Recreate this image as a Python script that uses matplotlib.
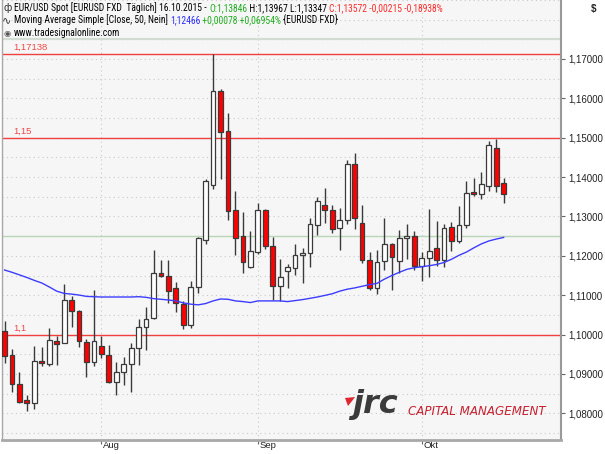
import numpy as np
import pandas as pd
import matplotlib
matplotlib.use("Agg")
import matplotlib.pyplot as plt
from matplotlib.patches import Polygon
from matplotlib import font_manager
import matplotlib.transforms as mtransforms

# ---------------- data ----------------
dates = pd.bdate_range("2015-07-15", "2015-10-16")

opens = [1.10085, 1.09473, 1.08746, 1.08332, 1.08249, 1.09341, 1.09258, 1.09846, 1.09796, 1.10879,
         1.10590, 1.09821, 1.09308, 1.09722, 1.09490, 1.08803, 1.09052, 1.09242, 1.09655, 1.10193,
         1.10416, 1.11574, 1.11500, 1.11185, 1.10788, 1.10251, 1.11210, 1.12410, 1.13807, 1.16189,
         1.15172, 1.13154, 1.12492, 1.11723, 1.12095, 1.13154, 1.12261, 1.11227, 1.11624, 1.11698,
         1.12013, 1.12070, 1.12782, 1.13295, 1.13171, 1.12699, 1.12922, 1.14345, 1.12840, 1.11888,
         1.11185, 1.11872, 1.12302, 1.11864, 1.12443, 1.12492, 1.11748, 1.11946, 1.12203, 1.11888,
         1.12732, 1.12368, 1.12774, 1.13609, 1.13568, 1.13774, 1.14742, 1.13846]
highs = [1.10342, 1.09631, 1.09052, 1.08456, 1.09697, 1.09672, 1.10176, 1.09961, 1.11293, 1.10979,
         1.10623, 1.09879, 1.11144, 1.09961, 1.09738, 1.09300, 1.09432, 1.09796, 1.10400, 1.10689,
         1.12137, 1.11889, 1.11889, 1.11326, 1.10855, 1.11351, 1.12467, 1.13956, 1.17138, 1.16231,
         1.15635, 1.13650, 1.13113, 1.12633, 1.13336, 1.13195, 1.12467, 1.11913, 1.11781, 1.12302,
         1.12195, 1.12964, 1.13485, 1.13733, 1.13295, 1.13212, 1.14428, 1.14618, 1.13295, 1.12095,
         1.12137, 1.12964, 1.12327, 1.12658, 1.12815, 1.12633, 1.12095, 1.13187, 1.12897, 1.12798,
         1.12856, 1.13270, 1.13890, 1.13973, 1.14138, 1.14907, 1.14965, 1.13967]
lows = [1.09283, 1.08539, 1.08274, 1.08067, 1.08109, 1.09200, 1.09200, 1.09225, 1.09779, 1.10193,
        1.09672, 1.08911, 1.09200, 1.09407, 1.08770, 1.08473, 1.08721, 1.08539, 1.09225, 1.09597,
        1.10391, 1.11475, 1.10813, 1.10582, 1.10152, 1.10176, 1.11061, 1.12302, 1.13708, 1.13956,
        1.12922, 1.12013, 1.11558, 1.11682, 1.12054, 1.12178, 1.10871, 1.10855, 1.11185, 1.11516,
        1.11310, 1.11707, 1.12525, 1.12840, 1.12575, 1.12137, 1.12798, 1.12691, 1.11806, 1.11144,
        1.11037, 1.11640, 1.11144, 1.11558, 1.11930, 1.11640, 1.11351, 1.11475, 1.11748, 1.11707,
        1.12112, 1.12319, 1.12716, 1.13526, 1.13435, 1.13650, 1.13625, 1.13347]
closes = [1.09465, 1.08746, 1.08291, 1.08249, 1.09341, 1.09283, 1.09862, 1.09755, 1.10879, 1.10590,
          1.09846, 1.09300, 1.09846, 1.09506, 1.08787, 1.09052, 1.09242, 1.09655, 1.10193, 1.10400,
          1.11574, 1.11492, 1.11103, 1.10797, 1.10251, 1.11210, 1.12443, 1.13890, 1.16189, 1.15156,
          1.13129, 1.12451, 1.11847, 1.12120, 1.13171, 1.12261, 1.11227, 1.11475, 1.11707, 1.12029,
          1.12079, 1.12798, 1.13402, 1.13171, 1.12674, 1.12922, 1.14345, 1.12964, 1.11888, 1.11185,
          1.11847, 1.12302, 1.11971, 1.12451, 1.12492, 1.11748, 1.11946, 1.12112, 1.11888, 1.12716,
          1.12368, 1.12774, 1.13601, 1.13568, 1.13816, 1.14825, 1.13774, 1.13572]
ma50 = [1.11640, 1.11582, 1.11516, 1.11450, 1.11376, 1.11310, 1.11210, 1.11103, 1.11045, 1.11028,
        1.11004, 1.10970, 1.10962, 1.10954, 1.10954, 1.10954, 1.10954, 1.10954, 1.10962, 1.10946,
        1.10913, 1.10896, 1.10879, 1.10855, 1.10805, 1.10772, 1.10755, 1.10788, 1.10855, 1.10904,
        1.10896, 1.10855, 1.10838, 1.10813, 1.10855, 1.10855, 1.10855, 1.10855, 1.10838, 1.10863,
        1.10888, 1.10921, 1.10954, 1.10995, 1.11037, 1.11103, 1.11152, 1.11185, 1.11227, 1.11268,
        1.11301, 1.11409, 1.11500, 1.11582, 1.11657, 1.11698, 1.11723, 1.11748, 1.11781, 1.11831,
        1.11913, 1.12013, 1.12095, 1.12203, 1.12302, 1.12377, 1.12426, 1.12467]

red_levels = [1.17138, 1.15, 1.10]
red_level_labels = ["1,17138", "1,15", "1,1"]
green_level = 1.125
month_names = {8: "Aug", 9: "Sep", 10: "Okt"}
y_ticks = [1.08, 1.09, 1.10, 1.11, 1.12, 1.13, 1.14, 1.15, 1.16, 1.17]

header1 = [("EUR/USD Spot [EURUSD FXD  Täglich] 16.10.2015 - ", "#000000"),
           ("O:1,13846", "#1fae1f"),
           (" H:1,13967 L:1,13347 ", "#000000"),
           ("C:1,13572 -0,00215 -0,18938%", "#ff2b2b")]
header2 = [("Moving Average Simple [Close, 50, Nein] ", "#000000"),
           ("1,12466", "#2b2bff"),
           (" +0,00078 +0,06954%", "#1fae1f"),
           (" {EURUSD FXD}", "#000000")]
header3 = "www.tradesignalonline.com"

# ---------------- fonts ----------------
avail = {f.name for f in font_manager.fontManager.ttflist}
narrow = None
for cand in ["Liberation Sans Narrow", "DejaVu Sans Condensed", "Roboto Condensed",
             "Open Sans Condensed", "Noto Sans Condensed"]:
    if cand in avail:
        narrow = cand
        break
if narrow is None:
    narrow = "Liberation Sans"

# ---------------- figure ----------------
W, H = 605, 454
fig = plt.figure(figsize=(W / 100, H / 100), dpi=100, facecolor="white")
ax = fig.add_axes([2 / W, 14 / H, 559 / W, 440 / H])
ax.set_facecolor("#f6f6f6")

o = np.array(opens); h = np.array(highs); l = np.array(lows); c = np.array(closes)
x = np.arange(len(o))
up = c >= o

ax.set_xlim(-0.34, 74.7)
ax.set_ylim(1.073218, 1.184987)

# grid
for v in np.arange(1.075, 1.1851, 0.005):
    ax.axhline(v, color="#c9c9c9", lw=0.8, ls=(0, (1, 3)), zorder=1)
month_idx = [i for i in range(1, len(dates)) if dates[i].month != dates[i - 1].month]
for i in month_idx:
    ax.axvline(i, color="#c9c9c9", lw=0.8, ls=(0, (1, 3)), zorder=1)

# level lines
ax.axhline(1.17515, color="#d3dcd3", lw=1.6, zorder=1.5)
for lv, lab in zip(red_levels, red_level_labels):
    ax.axhline(lv, color="#f04040", lw=1.0, zorder=2)
    ax.annotate(lab, xy=(11 / 559, lv), xycoords=("axes fraction", "data"),
                xytext=(0, 2), textcoords="offset pixels", va="bottom", ha="left",
                color="#f04848", fontsize=6.8, family="Liberation Sans")
ax.axhline(green_level, color="#b9d6b9", lw=1.0, zorder=2)

# candles
ax.vlines(x, l, h, color="#3a3a3a", lw=1.0, zorder=3)
body_bottom = np.minimum(o, c)
body_h = np.maximum(np.abs(c - o), 0.00008)
ax.bar(x, body_h, bottom=body_bottom, width=0.64,
       color=np.where(up, "white", "#ff0000"), edgecolor="#3a3a3a",
       linewidth=0.9, zorder=4)

# moving average
ax.plot(x, ma50, color="#3c3cff", lw=1.0, zorder=5)

# axes styling
ax.spines["top"].set_visible(False)
ax.spines["left"].set_color("#a8a8a8")
ax.spines["left"].set_linewidth(1.0)
ax.spines["right"].set_color("#999999")
ax.spines["right"].set_linewidth(1.5)
ax.spines["bottom"].set_color("#a8a8a8")
ax.spines["bottom"].set_linewidth(2.0)

ax.yaxis.tick_right()
ax.set_yticks(y_ticks)
ax.set_yticklabels([f"{v:.5f}".replace(".", ",") for v in y_ticks])
ax.tick_params(axis="y", length=3, width=0.8, color="#666666", pad=2,
               labelsize=7, labelcolor="#222222")
ax.set_xticks(month_idx)
ax.set_xticklabels([month_names[dates[i].month] for i in month_idx])
ax.tick_params(axis="x", length=3, width=0.8, color="#666666", pad=-2.5,
               labelsize=6.8, labelcolor="#222222", direction="out")
for t in ax.get_yticklabels() + ax.get_xticklabels():
    t.set_family("Liberation Sans")
shift = mtransforms.ScaledTranslation(1.5 / 100, 0, fig.dpi_scale_trans)
for t in ax.get_xticklabels():
    t.set_ha("left")
    t.set_transform(t.get_transform() + shift)

# header texts
renderer = fig.canvas.get_renderer()

def put_segments(segs, x0, ybase, fs, fam):
    xp = x0
    made = []
    for s, col in segs:
        t = fig.text(xp / W, 1 - ybase / H, s, color=col, fontsize=fs,
                     family=fam, va="baseline", ha="left")
        bb = t.get_window_extent(renderer)
        xp = bb.x1
        made.append(t)
    return xp, made

# fit header font size so line 1 spans the same width as in the reference
fs0 = 7.5
end, tmp = put_segments(header1, 14, 11, fs0, narrow)
for t in tmp:
    t.remove()
fs = fs0 * (442 - 14) / (end - 14)

put_segments(header1, 14, 11, fs, narrow)
put_segments(header2, 14, 23, fs, narrow)
put_segments([(header3, "#000000")], 14, 36, fs, narrow)
fig.text(3 / W, 1 - 11 / H, "ф", fontsize=7, color="#333333", va="baseline", family="DejaVu Sans")
fig.text(2 / W, 1 - 23 / H, "∿", fontsize=8, color="#333333", va="baseline", family="DejaVu Sans")
fig.text(3 / W, 1 - 36 / H, "◉", fontsize=6, color="#555555", va="baseline", family="DejaVu Sans")
fig.text(591 / W, 1 - 12 / H, "$", fontsize=7, color="#222222", va="baseline",
         family="Liberation Sans", weight="bold")

# logo
fig.patches.append(Polygon([(345 / W, 1 - 398 / H), (355 / W, 1 - 397 / H),
                            (352 / W, 1 - 401 / H), (348 / W, 1 - 406 / H)],
                           closed=True, transform=fig.transFigure,
                           facecolor="#e0262e", edgecolor="none", zorder=10))
fig.text(352 / W, 1 - 413 / H, "jrc", fontsize=23, color="#3b3b3b", weight="bold",
         style="italic", family="DejaVu Sans", va="baseline", ha="left")
fig.text(408 / W, 1 - 415 / H, "CAPITAL MANAGEMENT", fontsize=8.6, color="#c8202e",
         style="italic", family="DejaVu Sans", va="baseline", ha="left")

fig.savefig("out.png", dpi=100, facecolor="white")
